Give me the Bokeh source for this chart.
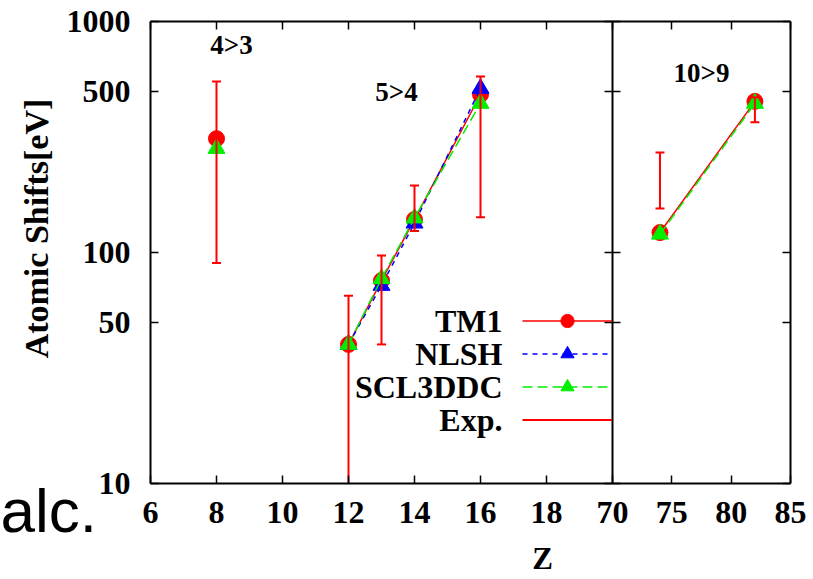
import numpy as np
from bokeh.plotting import figure
from bokeh.models import (Range1d, LinearAxis, LogAxis, FixedTicker,
                          Label, Legend, LegendItem)
from bokeh.core.properties import value
from bokeh.embed import file_html
from bokeh.resources import INLINE

# ---------------- data ----------------
z = [8, 12, 13, 14, 16, 74, 82]
transition = ["4>3", "5>4", "5>4", "5>4", "5>4", "10>9", "10>9"]
tm1 = [311, 40, 75.6, 139, 483, 122, 451]
nlsh = [np.nan, 40, 72, 134, 513, np.nan, np.nan]
scl3ddc = [282, 40, 77, 141, 442, 120, 442]
exp_low = [90, 8, 40, 124, 142, 155, 366]
exp_high = [550, 65, 97, 195, 578, 271, 470]

left_ticks = [6, 8, 10, 12, 14, 16, 18]
right_ticks = [70, 75, 80, 85]
y_ticks = [10, 50, 100, 500, 1000]
y_tick_labels = ["10", "50", "100", "500", "1000"]
legend_names = ["TM1", "NLSH", "SCL3DDC", "Exp."]

# ---------------- layout (pixels) ----------------
FONT = "Liberation Serif"
W, H = 808, 577
FL, FD, FR, FT, FB = 150, 612, 790, 21, 483     # panel edges: left, divider, right, top, bottom
left_lo, left_hi = 6, 20
right_lo, right_hi = 70, 85
y_lo, y_hi = 10, 1000

ux_l = (FD - FL) / (left_hi - left_lo)
ux_r = (FR - FD) / (right_hi - right_lo)
uy = (FB - FT) / (np.log10(y_hi) - np.log10(y_lo))

x_range = Range1d(left_lo - FL / ux_l, left_lo + (W - FL) / ux_l)
right_range = Range1d(right_lo - FD / ux_r, right_lo + (W - FD) / ux_r)
y_range = Range1d(10 ** (np.log10(y_lo) - (H - FB) / uy), 10 ** (np.log10(y_hi) + FT / uy))


def X(px):
    return left_lo + (px - FL) / ux_l


def XR(px):
    return right_lo + (px - FD) / ux_r


def Y(py):
    return 10 ** (np.log10(y_hi) - (py - FT) / uy)


p = figure(width=W, height=H, x_range=x_range, y_range=y_range, y_axis_type="log",
           x_axis_location=None, y_axis_location=None,
           output_backend="svg", toolbar_location=None,
           min_border=0, min_border_left=0, min_border_right=0,
           min_border_top=0, min_border_bottom=0)
p.extra_x_ranges = {"right": right_range}
p.xgrid.grid_line_color = None
p.ygrid.grid_line_color = None
p.outline_line_color = None
p.background_fill_color = "white"
p.border_fill_color = "white"


def make_axis(cls, side, loc, bounds, ticks, labels=True, tin=8, tout=0, rname="default",
              overrides=None, standoff=12):
    ax = cls(fixed_location=loc, bounds=bounds, ticker=FixedTicker(ticks=ticks),
             x_range_name=rname)
    ax.major_tick_in = tin
    ax.major_tick_out = tout
    ax.major_tick_line_width = 1.5
    ax.major_tick_line_color = "black"
    ax.minor_tick_line_color = None
    ax.axis_line_color = "black"
    ax.axis_line_width = 2
    ax.major_label_text_font = FONT
    ax.major_label_text_font_style = "bold"
    ax.major_label_text_font_size = "32px"
    ax.major_label_text_color = "black" if labels else None
    ax.major_label_standoff = standoff
    if overrides:
        ax.major_label_overrides = overrides
    p.add_layout(ax, side)
    return ax


# frame of the two panels, drawn by axes
make_axis(LogAxis, "left", left_lo, (y_lo, y_hi), y_ticks,
          overrides=dict(zip(y_ticks, y_tick_labels)), standoff=20)
make_axis(LogAxis, "right", left_hi, (y_lo, y_hi), y_ticks, labels=False, tin=8, tout=8)
make_axis(LogAxis, "right", right_hi, (y_lo, y_hi), y_ticks, labels=False, rname="right")
make_axis(LinearAxis, "below", y_lo, (left_lo, left_hi), left_ticks, standoff=18)
make_axis(LinearAxis, "below", y_lo, (right_lo, right_hi), right_ticks, rname="right",
          standoff=18)
make_axis(LinearAxis, "above", y_hi, (left_lo, left_hi), left_ticks, labels=False)
make_axis(LinearAxis, "above", y_hi, (right_lo, right_hi), right_ticks, labels=False,
          rname="right")

# ---------------- glyphs ----------------
z_arr = np.array(z, dtype=float)
tr_arr = np.array(transition)
series = [
    (tm1, "#ff0000", "solid", "circle", 16),
    (nlsh, "#0000ff", "5 5", "triangle", 17),
    (scl3ddc, "#00ee00", "10 5", "triangle", 17),
]
panels = [("default", z_arr <= left_hi), ("right", z_arr >= right_lo)]

legend_renderers = [[] for _ in range(4)]
for si, (vals, color, dash, marker, size) in enumerate(series):
    v = np.array(vals, dtype=float)
    for rname, mask in panels:
        for g in dict.fromkeys(tr_arr[mask]):
            gm = mask & (tr_arr == g) & ~np.isnan(v)
            if gm.sum() > 1:
                r = p.line(z_arr[gm], v[gm], line_color=color, line_width=1.5,
                           line_dash=dash, x_range_name=rname)
                if rname == "default" and not legend_renderers[si]:
                    legend_renderers[si].append(r)
        pm = mask & ~np.isnan(v)
        s = p.scatter(z_arr[pm], v[pm], marker=marker, size=size, fill_color=color,
                      line_color=color, x_range_name=rname)
        if rname == "default" and len(legend_renderers[si]) < 2:
            legend_renderers[si].append(s)

# experimental error bars, clipped at the panel bottom like the original
lo = np.array(exp_low, dtype=float)
hi = np.array(exp_high, dtype=float)
lo_clip = np.maximum(lo, y_lo)
for rname, mask in panels:
    seg = p.segment(z_arr[mask], lo_clip[mask], z_arr[mask], hi[mask], line_color="#ff0000",
                    line_width=2, x_range_name=rname)
    cm = mask & (lo >= y_lo)
    p.scatter(z_arr[cm], lo[cm], marker="dash", size=9, line_color="#ff0000",
              line_width=2, x_range_name=rname)
    p.scatter(z_arr[mask], hi[mask], marker="dash", size=9, line_color="#ff0000",
              line_width=2, x_range_name=rname)
    if rname == "default":
        legend_renderers[3].append(seg)

# legend: samples on the right, names right-aligned to their left
ROW0, ROWH = 320, 33
legend = Legend(items=[LegendItem(label=value(""), renderers=r) for r in legend_renderers],
                location=(522, H - (ROW0 - ROWH / 2 + 4 * ROWH)),
                glyph_width=FD - 522, glyph_height=ROWH, label_width=0,
                label_height=ROWH, label_standoff=0, spacing=0, padding=0, margin=0,
                border_line_color=None, background_fill_alpha=0,
                label_text_font_size="1px")
p.add_layout(legend)

for i, name in enumerate(legend_names):
    p.add_layout(Label(x=X(502), y=Y(ROW0 + i * ROWH), text=name, text_align="right",
                       text_baseline="middle", text_font=FONT, text_font_style="bold",
                       text_font_size="32px", text_color="black"))

# transition group labels
for txt, px, py, rn in [("4>3", 231, 44, "default"), ("5>4", 396, 91, "default"),
                        ("10>9", 701, 72, "right")]:
    xv = XR(px) if rn == "right" else X(px)
    p.add_layout(Label(x=xv, y=Y(py), x_range_name=rn, text=txt, text_align="center",
                       text_baseline="middle", text_font=FONT, text_font_style="bold",
                       text_font_size="27px", text_color="black"))

# axis titles
p.add_layout(Label(x=X(36), y=Y(228), text="Atomic Shifts[eV]", angle=np.pi / 2,
                   text_align="center", text_baseline="middle", text_font=FONT,
                   text_font_style="bold", text_font_size="34px", text_color="black"))
p.add_layout(Label(x=X(542), y=Y(558), text="Z", text_align="center",
                   text_baseline="middle", text_font=FONT, text_font_style="bold",
                   text_font_size="31px", text_color="black"))

# fragment of slide text behind the chart
p.add_layout(Label(x=X(0), y=Y(510), text="alc.", text_align="left",
                   text_baseline="middle", text_font="Liberation Sans",
                   text_font_size="62px", text_color="black"))

open("out.html", "w").write(file_html(p, INLINE))
